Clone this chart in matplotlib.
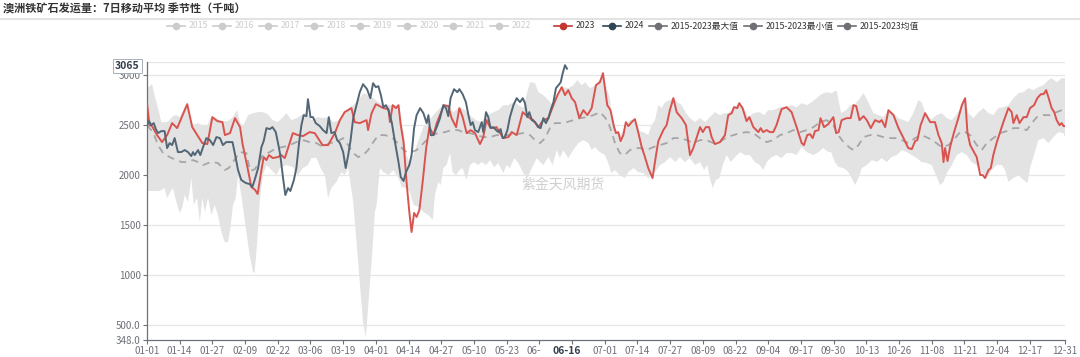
import numpy as np
import matplotlib
matplotlib.use("Agg")
import matplotlib.pyplot as plt
from matplotlib.lines import Line2D
from matplotlib.patches import Rectangle

plt.rcParams['font.family'] = ['Noto Sans CJK SC', 'DejaVu Sans']

# x values are day-of-year on a leap-year axis (0 = 01-01, 365 = 12-31)
tick_days = [0, 13, 26, 39, 52, 65, 78, 91, 104, 117, 130, 143, 156,
             169, 182, 195, 208, 221, 234, 247, 260, 273, 286, 299, 312, 325, 338, 351, 365]
tick_labels = ['01-01', '01-14', '01-27', '02-09', '02-22', '03-06', '03-19', '04-01', '04-14',
               '04-27', '05-10', '05-23', '06-05', '06-18', '07-01', '07-14', '07-27', '08-09', '08-22',
               '09-04', '09-17', '09-30', '10-13', '10-26', '11-08', '11-21', '12-04', '12-17', '12-31']

# 2023
d23 = [0, 1, 2, 4, 6, 8, 10, 12, 16, 18, 19, 22, 24, 26, 28, 30, 31, 33, 35, 37, 38, 40, 41.5, 43, 44,
       45.5, 46.4, 47.5, 48.5, 50, 52, 53.4, 54.8, 58, 60, 62, 64.7, 66.7, 69.8, 72, 74.7, 76.7, 78.6,
       81.3, 82.6, 84.6, 87.3, 87.9, 89.3, 91, 94, 96, 96.6, 97.7, 99, 100, 100.9, 102, 103.2, 104.3,
       105.2, 106.2, 107.2, 108.3, 109.6, 111, 112.3, 113.9, 115.2, 116.5, 118.1, 119.8, 121.1, 122.9,
       124.2, 125.5, 127.1, 128.7, 130.4, 132.4, 133.7, 135, 136.4, 137.7, 139, 140.4, 141.7, 143.7,
       145, 147, 149.4, 151.6, 153.6, 155.6, 157.6, 159.6, 161.6, 163.2, 164.9, 166.2, 167.5, 168.9,
       170.2, 171.9, 173.5, 175.1, 176.8, 178.5, 180.1, 181.3, 183, 184.3, 185.7, 186.5, 187.4, 188.3,
       189.4, 190.4, 191.4, 192.7, 194, 195.3, 196.7, 198, 199.3, 201, 202.4, 203.3, 205.3, 206.6,
       207.9, 209.3, 210.6, 212.6, 214.3, 215.9, 217.2, 218.5, 219.9, 221, 222.2, 223.5, 224.5,
       225.8, 227.8, 229.8, 231.1, 232.5, 233.4, 234.7, 235.5, 236.8, 238.4, 239.5, 241.1, 243.1,
       244, 245, 246.4, 247.7, 249, 250.3, 252.3, 254.3, 256.3, 258.3, 260.3, 261.2, 262.5, 263.6,
       264.7, 265.6, 267, 267.8, 269.2, 270.9, 272.9, 274, 275, 276.2, 278.2, 279.8, 280.9, 282,
       283.3, 284.9, 286.2, 287.8, 289.5, 291.2, 292.1, 293.5, 294.8, 296.8, 298.8, 300.8, 302.7,
       304.1, 305.4, 306.3, 307.6, 309.4, 311.4, 313.3, 314.7, 316, 316.7, 317.3, 318.3, 319.3,
       320.9, 322.6, 324, 325.3, 326.2, 327.3, 329.9, 331.3, 332.3, 333.2, 334.6, 335.5, 336.5,
       337.9, 339.2, 340.5, 342.5, 343.8, 344.5, 345.8, 346.9, 348.5, 349.8, 351.1, 352.7, 354,
       355.4, 356.5, 357.5, 358.4, 359.7, 360.7, 361.7, 362.8, 363.7, 364.4, 365]
v23 = [2720, 2500, 2490, 2400, 2330, 2400, 2520, 2470, 2710, 2480, 2440, 2320, 2310, 2580, 2540, 2530,
       2400, 2420, 2570, 2480, 2310, 2070, 1880, 1850, 1810,
       2050, 2180, 2150, 2200, 2170, 2180, 2200, 2170, 2420, 2400, 2390, 2430, 2420, 2300, 2300, 2420,
       2550, 2630, 2670, 2530, 2520, 2550, 2450, 2620, 2710, 2670, 2660, 2530, 2700, 2670, 2700, 2500,
       2330, 1930, 1630, 1430, 1620, 1580, 1650, 1930, 2270, 2480, 2400, 2520, 2600, 2700, 2690, 2570,
       2480, 2670, 2580, 2420, 2450, 2420, 2310, 2380, 2550, 2480, 2470, 2480, 2420, 2370, 2380, 2430,
       2400, 2630, 2580, 2550, 2480, 2550, 2570, 2700, 2800, 2880, 2800, 2850, 2770, 2730, 2570, 2650,
       2600, 2670, 2900, 2930, 3020, 2700, 2650, 2480, 2420, 2430, 2340, 2400, 2530, 2490, 2530, 2560,
       2430, 2280, 2180, 2070, 1970, 2200, 2340, 2450, 2500, 2650, 2770, 2630, 2570, 2500, 2200, 2270,
       2370, 2480, 2430, 2480, 2480, 2380, 2310, 2330, 2400, 2600, 2620, 2680, 2670, 2720, 2670, 2540,
       2580, 2480, 2430, 2470, 2430, 2450, 2430, 2430, 2500, 2660, 2680, 2630, 2480, 2320, 2300, 2400,
       2410, 2370, 2440, 2450, 2570, 2480, 2510, 2580, 2420, 2430, 2550, 2570, 2570, 2700, 2690, 2550,
       2590, 2550, 2470, 2550, 2530, 2550, 2480, 2650, 2600, 2470, 2370, 2270, 2260, 2340, 2350, 2500,
       2620, 2530, 2530, 2400, 2320, 2130, 2270, 2140, 2280, 2430, 2570, 2700, 2770, 2430, 2300, 2180,
       2000, 2000, 1970, 2050, 2070, 2200, 2330, 2430, 2530, 2670, 2630, 2520, 2600, 2520, 2580, 2580,
       2670, 2700, 2770, 2810, 2810, 2850, 2780, 2670, 2630, 2550, 2500, 2520, 2490, 2490]

# 2024 (to 06-16)
d24 = [0, 0.8, 1.7, 2.7, 3.5, 4.4, 5.7, 7, 8, 9, 10, 11, 12.3, 13.6, 15, 16.3, 17.6, 18.3, 19, 20.3,
       21.2, 22.3, 23.6, 25, 26.3, 27.6, 29, 30.2, 31.5, 32.8, 34, 34.9, 36.2, 37.5, 39.3, 40.8, 41.9,
       42.8, 44.2, 45.5, 46.4, 47.5, 48.8, 49.9, 51.2, 52.1, 53, 54.1, 55, 56.1, 57, 58.4, 59.4, 60.5,
       61.4, 62.3, 63.4, 64, 65, 66, 67.1, 68.7, 70, 71.4, 72.3, 73.3, 74.6, 75.6, 76.7, 78, 79, 80,
       80.9, 82, 83.3, 84.6, 85.9, 87.5, 88.8, 89.9, 91, 92, 93, 94, 95, 96, 97.3, 98.6, 100, 100.9,
       102, 103, 104.3, 105.2, 106.2, 107.2, 108.6, 109.9, 111.2, 111.9, 112.8, 113.9, 115.2, 116.5,
       117.8, 118.9, 119.8, 120.7, 122.1, 123.4, 124.2, 125.5, 126.8, 127.8, 128.7, 129.5, 130.4,
       131.7, 133.1, 133.7, 134.8, 135.7, 136.6, 137.7, 138.8, 139.7, 140.6, 141.4, 142.3, 143.3,
       144.3, 145.7, 147, 148.3, 149.4, 150.3, 151.2, 152, 153, 154.3, 155.6, 156.5, 157.6, 158.6,
       159.6, 160.5, 161.6, 162.6, 163.6, 164.5, 165.3, 166.2, 167]
v24 = [2500, 2540, 2500, 2520, 2460, 2420, 2440, 2440, 2270, 2320, 2300, 2370, 2230, 2230, 2250, 2230,
       2190, 2230, 2200, 2250, 2200, 2280, 2370, 2350, 2300, 2380, 2370, 2300, 2330, 2330, 2330, 2220,
       2050, 1950, 1920, 1910, 1880, 1950, 2070, 2280, 2340, 2470, 2460, 2480, 2430, 2320, 2200, 1970,
       1800, 1870, 1840, 1950, 2070, 2330, 2500, 2600, 2590, 2760, 2580, 2580, 2520, 2490, 2450, 2420,
       2580, 2420, 2430, 2350, 2320, 2230, 2070, 2200, 2340, 2570, 2700, 2830, 2910, 2860, 2770, 2920,
       2880, 2890, 2800, 2680, 2700, 2650, 2530, 2330, 2130, 1980, 1940, 2030, 2100, 2200, 2470, 2600,
       2670, 2620, 2520, 2600, 2400, 2400, 2480, 2570, 2700, 2670, 2590, 2770, 2860, 2830, 2860, 2810,
       2730, 2600, 2500, 2530, 2450, 2430, 2530, 2430, 2630, 2580, 2470, 2480, 2450, 2430, 2460, 2370,
       2380, 2450, 2580, 2700, 2770, 2730, 2770, 2720, 2580, 2630, 2550, 2530, 2480, 2470, 2570, 2520,
       2570, 2650, 2730, 2870, 2900, 2930, 3020, 3100, 3065]

# 2015-2023 max
dmax = [0, 2, 3, 4.4, 5.7, 7.7, 9, 10.3, 11.7, 13, 15.6, 18, 20.3, 22, 24, 25.6, 28, 30, 32.2, 34.2,
        35.8, 37, 38.2, 40.2, 42.2, 44.2, 46, 48, 50, 52, 54.1, 55.4, 57.4, 59.4, 61.4, 63.4, 65.4, 68,
        70, 72, 74, 75.3, 76.7, 78, 80, 82, 84, 86, 88, 90, 92, 94, 96, 99.3, 100.9, 102, 103.2, 104.3,
        106, 107.2, 109.9, 111.5, 113.9, 116.5, 118, 120, 121.8, 124.2, 126.4, 128.4, 130.8, 133, 135,
        137, 139.7, 141.7, 143.7, 145.7, 147.7, 149.6, 151.2, 152.3, 154.3, 155.6, 157.6, 159.6, 161.3,
        162.9, 164.9, 167.5, 169.5, 171.1, 172.8, 174.2, 176.1, 178.5, 180.1, 181.2, 182.8, 184, 184.7,
        186.7, 188.3, 190, 192, 194, 195.7, 197.3, 199.3, 200.6, 202, 203.3, 204.6, 206, 207.9, 209.3,
        210.9, 212.6, 214.3, 215.9, 217.9, 219.9, 221.9, 223.8, 225.8, 227.8, 229.4, 231.1, 233.4,
        235.5, 237.3, 239, 241.1, 243.5, 245.4, 247, 249, 251.7, 254.3, 256.3, 258.3, 260.3, 262.3,
        264.3, 266.3, 268.2, 270.2, 272.2, 274.2, 276, 278, 279.6, 281.5, 283.5, 284.9, 286.8, 288.8,
        290.8, 292.8, 294.8, 296.8, 298.8, 300.8, 302.7, 304.7, 306.7, 308, 310, 312, 314, 316, 318,
        320, 322, 324, 325.3, 326.6, 328.6, 330.6, 332.6, 334.6, 336.5, 338.5, 340.5, 342.5, 344.5,
        346.5, 348.5, 350.5, 352.5, 354.4, 356.4, 358.4, 359.7, 361.7, 363.7, 365]
vmax = [2870, 2910, 2800, 2670, 2530, 2530, 2550, 2590, 2600, 2580, 2710, 2500, 2520, 2500, 2500, 2590,
        2560, 2540, 2540, 2580, 2650, 2530, 2490, 2600, 2620, 2630, 2630, 2610, 2550, 2530, 2580, 2620,
        2550, 2570, 2600, 2630, 2550, 2580, 2570, 2580, 2530, 2540, 2550, 2630, 2670, 2700, 2750, 2820,
        2800, 2770, 2730, 2700, 2700, 2700, 2580, 2430, 2200, 2130, 2200, 2300, 2480, 2530, 2600, 2670,
        2700, 2700, 2630, 2680, 2650, 2600, 2550, 2530, 2600, 2620, 2650, 2700, 2700, 2730, 2700, 2670,
        2830, 2930, 2920, 2830, 2800, 2750, 2700, 2800, 2880, 2870, 2900, 2950, 2900, 2930, 2870, 2900,
        2960, 3020, 2870, 2770, 2620, 2430, 2400, 2480, 2550, 2560, 2440, 2430, 2400, 2500, 2550, 2700,
        2670, 2730, 2750, 2770, 2730, 2700, 2620, 2570, 2530, 2570, 2530, 2580, 2630, 2600, 2620, 2620,
        2680, 2720, 2670, 2580, 2620, 2630, 2600, 2650, 2650, 2680, 2680, 2700, 2680, 2720, 2700, 2730,
        2770, 2810, 2830, 2820, 2850, 2620, 2650, 2700, 2710, 2770, 2820, 2730, 2620, 2600, 2580, 2650,
        2620, 2570, 2550, 2530, 2620, 2750, 2730, 2580, 2560, 2600, 2620, 2570, 2550, 2610, 2700, 2770,
        2620, 2570, 2630, 2670, 2620, 2600, 2670, 2680, 2700, 2770, 2820, 2830, 2870, 2850, 2880, 2900,
        2950, 2970, 2930, 2970, 2970]

# 2015-2023 min
dmin = [0, 5, 7, 8, 9.3, 10.3, 11.7, 13, 14, 15, 16.3, 17.6, 18.6, 19.9, 21, 22, 23, 24.3, 25.6, 26.9,
        28.2, 29.6, 30.9, 32.2, 33.2, 34.2, 35.3, 36.2, 37.5, 39.3, 40.8, 42.2, 42.8, 43.8, 44.8, 46.1,
        47.5, 49.5, 51.5, 52.8, 55.4, 58, 60, 62, 64, 65.4, 67.4, 69.4, 70.7, 72, 73.3, 75.3, 77.3,
        78.6, 80, 82, 83.3, 84.6, 85.9, 87, 87.9, 89.3, 90.6, 91.3, 92.6, 94, 96, 98, 100, 101.3, 103.2,
        104.5, 106, 108, 109.9, 111.9, 113.6, 114.5, 115.8, 116.8, 117.8, 119.1, 120.5, 121.5, 122.9,
        124.2, 125.5, 127.1, 128.4, 130, 131.7, 133.1, 134.8, 136.4, 138, 139.7, 141.7, 143, 144.3, 146,
        147.7, 149.6, 151.2, 153, 155, 156.3, 157.6, 159.6, 161.3, 162.9, 164.2, 165.5, 167.5, 169.5,
        171.5, 173.5, 175.5, 176.8, 178.1, 180.1, 182.1, 183.4, 184.7, 186, 188, 190, 191.4, 193.4,
        195.3, 197.3, 199.3, 200.6, 202, 204, 206, 208, 210, 211.9, 213.9, 215.9, 217.9, 219.9, 221.5,
        222.8, 223.8, 224.9, 226.2, 227.6, 228.9, 230.5, 232.1, 233.8, 235.8, 237.7, 239.7, 241.7,
        243.7, 245, 246.4, 248.4, 250.3, 252.3, 254.3, 256.3, 258.3, 260.3, 262.3, 265, 267, 268.9,
        270.9, 272, 273.5, 275, 276.9, 278.9, 280.2, 281.5, 282.9, 284.2, 286.2, 288.2, 290.2, 292.1,
        294.1, 296.1, 298.1, 300.1, 302.1, 304.1, 306, 308, 310, 312, 313.7, 315.3, 316.7, 318, 320,
        322, 324, 325.9, 327.9, 329.9, 331.9, 333.9, 335.9, 337.9, 339.9, 341.2, 342.5, 344.5, 346.5,
        348.5, 350.1, 351.1, 352.7, 354.4, 356.4, 358.4, 360.4, 362.4, 364.4, 365]
vmin = [1840, 1840, 1870, 1770, 1830, 1870, 1730, 1620, 1670, 1800, 1730, 1970, 1700, 1770, 1530, 1770,
        1630, 1770, 1600, 1700, 1600, 1430, 1330, 1330, 1470, 1700, 1770, 2000, 1800, 1470, 1200, 1030,
        1020, 1330, 1730, 2000, 2100, 2050, 2000, 2070, 2100, 2080, 2000, 2070, 2100, 2170, 2170, 2050,
        2000, 1770, 1870, 1930, 2030, 2000, 2070, 1730, 1330, 930, 530, 370, 670, 1130, 1630, 1700, 2070,
        2030, 2000, 2050, 1970, 1880, 1870, 1830, 1700, 1680, 1630, 1600, 1550, 1800, 1930, 1900, 2070,
        2100, 2220, 2030, 2000, 2050, 2070, 1950, 2100, 2130, 2100, 2130, 2100, 2150, 2080, 2120, 2020,
        2100, 2070, 2170, 2120, 2020, 1970, 2070, 2170, 2130, 2100, 2180, 2100, 2250, 2170, 2250, 2170,
        2250, 2320, 2350, 2320, 2250, 2280, 2230, 2200, 2120, 2020, 2050, 2000, 1970, 2030, 2070, 2030,
        2020, 1970, 2000, 2030, 2100, 2130, 2180, 2130, 2180, 2130, 2170, 2100, 2130, 2050, 2100, 1970,
        1870, 1950, 1970, 2100, 2200, 2130, 2180, 2230, 2200, 2200, 2130, 2100, 2050, 2130, 2180, 2200,
        2170, 2220, 2220, 2200, 2280, 2230, 2200, 2230, 2270, 2230, 2230, 2130, 2080, 2070, 2030, 1970,
        1900, 1970, 2070, 2100, 2150, 2130, 2170, 2130, 2180, 2200, 2250, 2230, 2200, 2170, 2130, 2120,
        2100, 2000, 1900, 1930, 2020, 2100, 2200, 2230, 2200, 2130, 2100, 2030, 1970, 2050, 2100, 2100,
        2050, 1930, 1970, 2000, 1950, 1920, 2070, 2200, 2350, 2370, 2320, 2380, 2430, 2420, 2380]

# 2015-2023 mean
dmean = [0, 2.4, 4.4, 6.4, 9, 11.7, 13.7, 15.6, 18.3, 20.3, 22.3, 24.3, 26.3, 28.2, 30.9, 32.5, 34.2,
         36.9, 39.5, 41, 43, 45, 46, 48.8, 51.5, 54, 56.8, 59.4, 62, 64.7, 67.4, 70, 72.6, 75.3, 78, 80,
         82, 84, 86, 87.9, 90, 92, 94.5, 97.3, 99.3, 101.3, 103.2, 105.2, 107.2, 109.2, 111.2, 113.2,
         115.8, 118.5, 121.1, 123.8, 126.4, 128.4, 131.1, 133.7, 136.4, 139, 141.7, 144.3, 147, 149.6,
         152.3, 154.3, 156.3, 158.3, 160.2, 162.2, 164.9, 166.9, 169.5, 172.2, 174.8, 177.5, 180.1, 182,
         183.4, 184.7, 186.1, 188, 190, 192, 194, 196, 198.7, 201.3, 204, 206.6, 209.3, 212, 214.6,
         217.2, 219.9, 222.5, 225.2, 227.8, 230.5, 233.1, 235.8, 238.4, 241.1, 243.7, 246.4, 249,
         251.7, 254.3, 257, 259.7, 262.3, 265, 267.6, 270.2, 272.9, 274.3, 276.9, 279.6, 281, 282.9,
         284.9, 287.5, 290.2, 292.8, 294.8, 297.5, 300.1, 302.7, 305.4, 308, 310.7, 313.3, 316, 318.7,
         321.3, 323.3, 325.3, 327.3, 329.9, 331.9, 333.9, 336.5, 339.2, 341.8, 344.5, 347.2, 349.8,
         351.8, 353.8, 356.4, 359, 361.7, 363.7, 365]
vmean = [2500, 2430, 2300, 2220, 2180, 2150, 2130, 2130, 2150, 2130, 2100, 2120, 2130, 2120, 2050, 2070,
         2130, 2230, 2220, 2040, 2060, 2150, 2200, 2230, 2270, 2280, 2300, 2330, 2350, 2330, 2320, 2280,
         2320, 2330, 2370, 2300, 2220, 2180, 2200, 2250, 2330, 2400, 2400, 2380, 2330, 2270, 2230, 2230,
         2250, 2300, 2350, 2400, 2420, 2430, 2450, 2450, 2420, 2420, 2400, 2380, 2380, 2400, 2400, 2400,
         2410, 2420, 2400, 2350, 2320, 2370, 2470, 2520, 2520, 2530, 2550, 2570, 2580, 2600, 2630, 2580,
         2530, 2430, 2320, 2220, 2200, 2250, 2270, 2270, 2250, 2280, 2300, 2320, 2370, 2370, 2350, 2320,
         2350, 2350, 2320, 2330, 2380, 2400, 2420, 2430, 2420, 2370, 2330, 2350, 2400, 2420, 2450, 2430,
         2450, 2480, 2530, 2550, 2500, 2420, 2330, 2270, 2250, 2300, 2380, 2400, 2400, 2380, 2370, 2370,
         2350, 2320, 2370, 2400, 2370, 2330, 2280, 2300, 2370, 2430, 2430, 2400, 2300, 2250, 2320, 2370,
         2420, 2440, 2470, 2470, 2450, 2520, 2580, 2600, 2600, 2630, 2650, 2670]

fig = plt.figure(figsize=(10.8, 3.57), dpi=100)
ax = fig.add_axes([0.1361, 0.0476, 0.85, 0.7787])

band_x = np.concatenate([dmax, dmin[::-1]])
band_y = np.concatenate([vmax, vmin[::-1]])
ax.fill(band_x, band_y, color='#e3e3e3', lw=0, zorder=1)
ax.plot(dmean, vmean, color='#a6a6a6', lw=1.3, ls=(0, (4, 3)), zorder=2)
ax.plot(d23, v23, color='#d9534f', lw=1.4, zorder=3)
ax.plot(d24, v24, color='#526676', lw=1.4, zorder=4)

ax.set_xlim(0, 365)
ax.set_ylim(348, 3132)
for v in [500, 1000, 1500, 2000, 2500, 3000, 3132]:
    ax.axhline(v, color='#e6e6e6', lw=0.9, zorder=0)

ax.set_yticks([348, 500, 1000, 1500, 2000, 2500, 3000])
ax.set_yticklabels(['348.0', '500.0', '1000', '1500', '2000', '2500', '3000'])
ax.set_xticks(tick_days)
ax.set_xticklabels(tick_labels)
ax.tick_params(axis='both', labelsize=7, colors='#6e7079', length=3, width=0.8, pad=1.5)
for sp in ['top', 'right']:
    ax.spines[sp].set_visible(False)
for sp in ['left', 'bottom']:
    ax.spines[sp].set_color('#6e7079')
    ax.spines[sp].set_linewidth(0.9)

# axis pointer label on x: white box hides the neighbouring tick labels
xtrans = ax.get_xaxis_transform()
ax.add_patch(Rectangle((156.6, -0.09), 20.4, 0.07, transform=xtrans, fc='white', ec='none',
                       zorder=9, clip_on=False))
ax.text(167, -0.02, '06-16', transform=xtrans, ha='center', va='top',
        fontsize=7.5, fontweight='bold', color='#333f4d', zorder=10, clip_on=False)
ax.text(-0.008, 3090, '3065', transform=ax.get_yaxis_transform(), ha='right', va='center',
        fontsize=7.5, fontweight='bold', color='#333f4d',
        bbox=dict(boxstyle='square,pad=0.2', fc='white', ec='#9aa4ae', lw=0.6), zorder=10, clip_on=False)

# watermark
fig.text(0.521, 0.482, '紫金天风期货', fontsize=10, color='#cfcfcf', ha='center', va='center')

# title and separator
fig.text(0.003, 0.975, '澳洲铁矿石发运量：7日移动平均 季节性（千吨）', fontsize=8, fontweight='bold',
         color='#333333', ha='left', va='center')
fig.add_artist(Line2D([0, 1], [0.947, 0.947], color='#e3e3e3', lw=1.5))

# legend
leg_names = ['2015', '2016', '2017', '2018', '2019', '2020', '2021', '2022', '2023', '2024',
             '2015-2023最大值', '2015-2023最小值', '2015-2023均值']
leg_colors = ['#cccccc'] * 8 + ['#c23531', '#2f4554', '#6e7074', '#6e7074', '#6e7074']
leg_text = ['#cccccc'] * 8 + ['#333333'] * 5
leg_x = [176, 222, 268, 314, 360, 407, 453, 499, 563, 612, 658, 753, 847]
ly = 1 - 26 / 357
for name, c, tc, px in zip(leg_names, leg_colors, leg_text, leg_x):
    x = px / 1080
    fig.add_artist(Line2D([x - 9 / 1080, x + 9 / 1080], [ly, ly], color=c, lw=1.2))
    fig.add_artist(Line2D([x], [ly], color=c, marker='o', ms=4.5, lw=0))
    fig.text(x + 13 / 1080, ly, name, fontsize=6.3, color=tc, ha='left', va='center')

fig.savefig('out.png', dpi=100)
